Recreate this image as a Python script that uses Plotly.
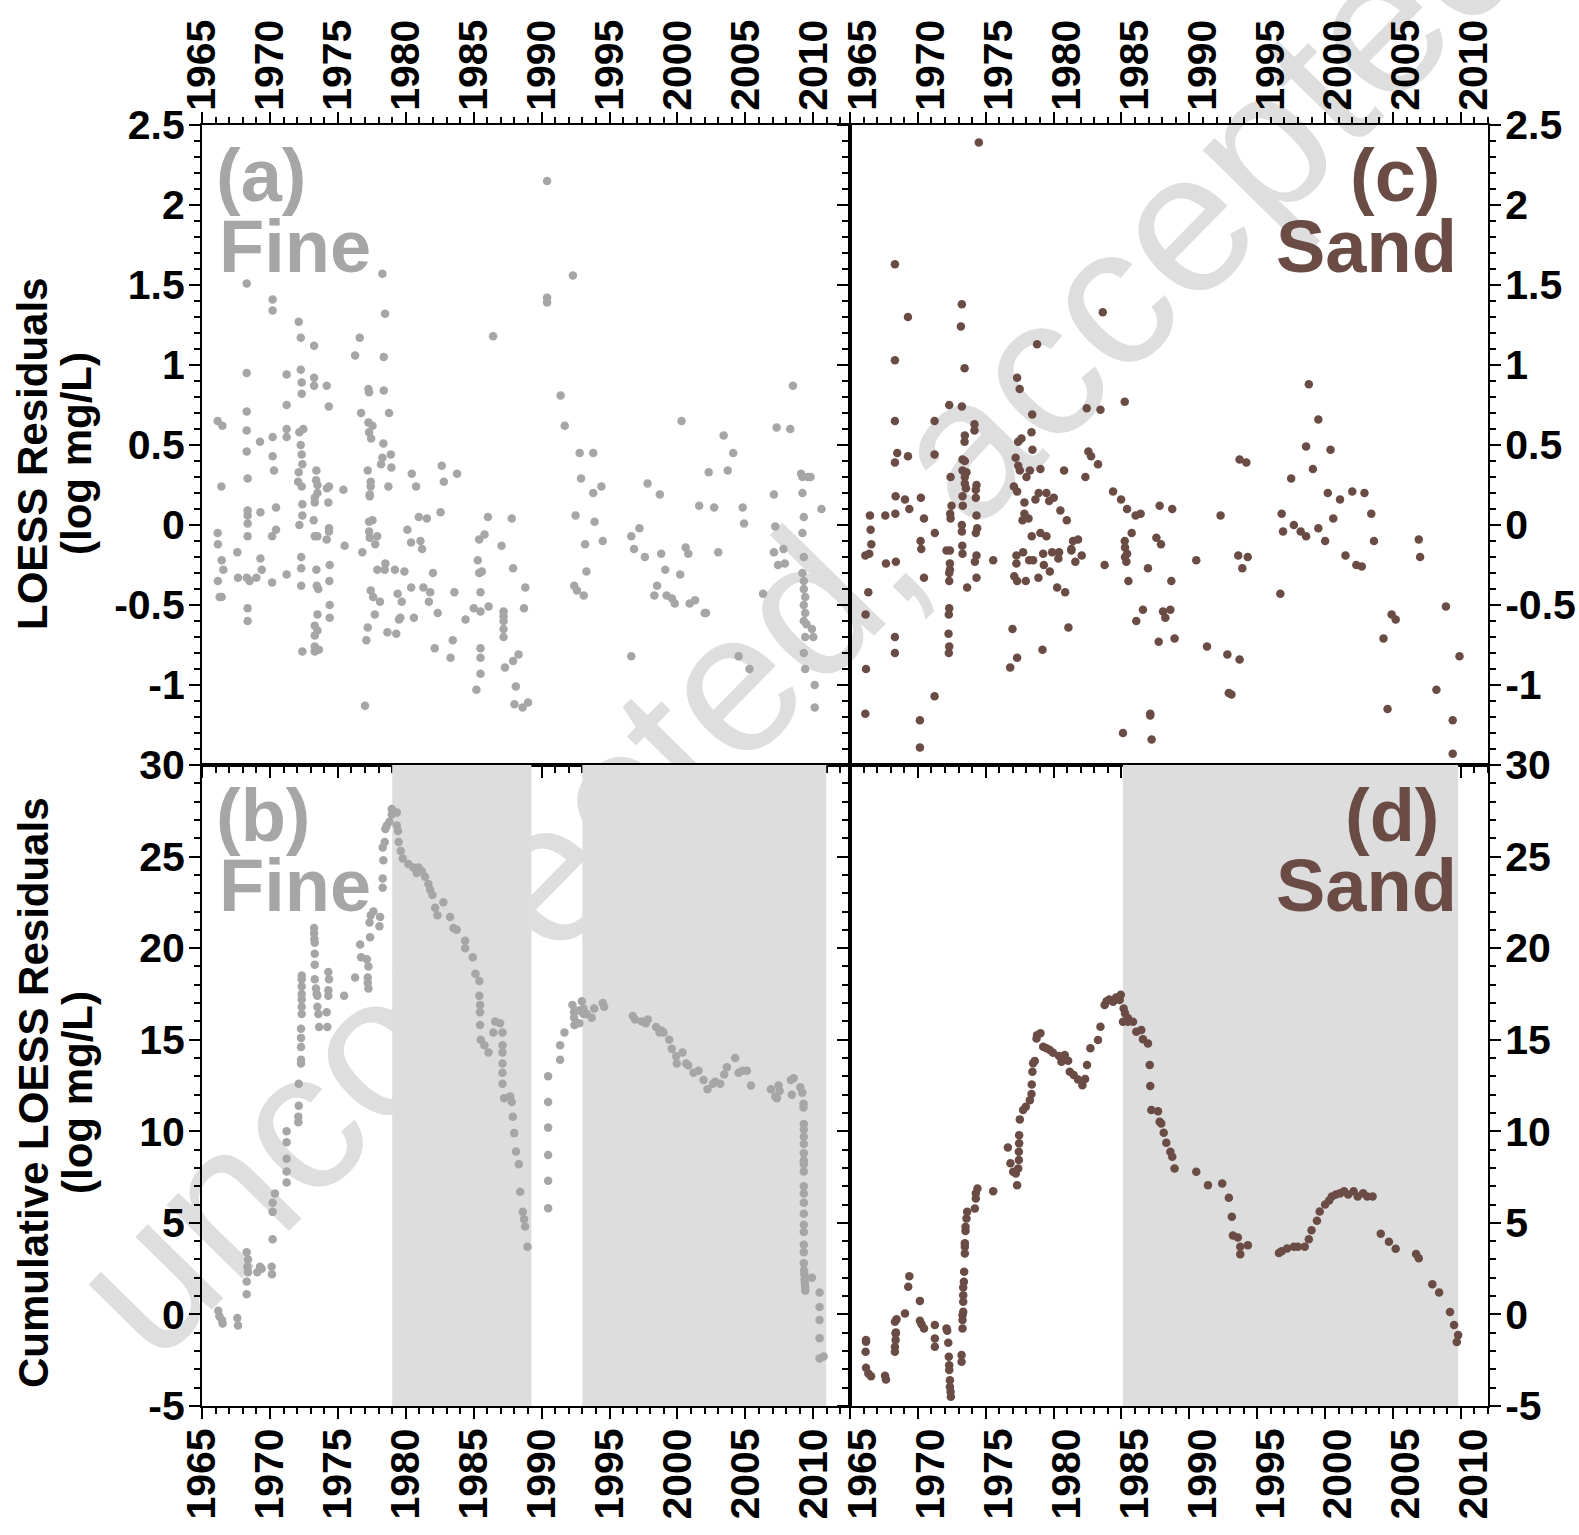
import plotly.graph_objects as go

W, H = 1579, 1535

# ---------------- data ----------------
# (a) Fine-sediment LOESS residuals (log mg/L)
A_YEAR = [1966.15, 1966.5, 1966.15, 1966.17, 1966.45, 1966.57, 1966.17, 1966.3, 1966.45, 1966.43,
          1967.6, 1967.65,
          1968.29, 1968.29, 1968.29, 1968.29, 1968.29, 1968.36, 1968.36, 1968.36, 1968.36, 1968.36, 1968.3, 1968.5, 1968.36, 1968.36,
          1969.0, 1969.27, 1969.3, 1969.3, 1969.4,
          1970.2, 1970.2, 1970.2, 1970.2, 1970.3, 1970.45, 1970.45, 1970.16, 1970.16,
          1971.23, 1971.23, 1971.23, 1971.23, 1971.23,
          1972.12, 1972.27, 1972.27, 1972.34, 1972.34, 1972.17, 1972.46, 1972.27, 1972.34, 1972.39, 1972.12, 1972.07, 1972.34, 1972.39, 1972.39, 1972.17, 1972.3, 1972.3, 1972.3, 1972.39,
          1973.25, 1973.25, 1973.25, 1973.42, 1973.4, 1973.5, 1973.5, 1973.3, 1973.3, 1973.22, 1973.3, 1973.5, 1973.42, 1973.45, 1973.56, 1973.5, 1973.3, 1973.5, 1973.3, 1973.3, 1973.3, 1973.6,
          1974.18, 1974.33, 1974.2, 1974.35, 1974.3, 1974.35, 1974.35, 1974.18, 1974.4, 1974.37, 1974.4, 1974.4,
          1975.41, 1975.5,
          1976.61, 1976.27, 1976.71, 1976.8, 1977.0,
          1977.25, 1977.3, 1977.25, 1977.55, 1977.3, 1977.45, 1977.2, 1977.42, 1977.42, 1977.35, 1977.35, 1977.3, 1977.55, 1977.3, 1977.35, 1977.9, 1977.75, 1977.9, 1977.42, 1977.6, 1978.1, 1977.72, 1977.2, 1977.1,
          1978.28, 1978.48, 1978.38, 1978.38, 1978.77, 1978.35, 1978.28, 1978.9, 1978.18, 1978.94, 1978.72, 1978.45, 1978.5, 1978.65,
          1979.2, 1979.9, 1979.3, 1979.4, 1979.7, 1979.6, 1979.5,
          1980.44, 1980.76, 1980.96, 1980.12, 1980.39, 1980.4, 1980.6,
          1981.08, 1981.2, 1981.55, 1981.3, 1981.8, 1981.7,
          1982.65, 1982.8, 1982.56, 1982.0, 1982.35, 1982.13,
          1983.78, 1983.3, 1983.46, 1983.58, 1984.4,
          1985.3, 1985.4, 1985.8, 1985.4, 1985.6, 1985.0, 1985.5, 1985.5, 1985.5, 1985.5, 1985.5, 1985.2,
          1986.05, 1986.43, 1986.1,
          1987.05, 1987.8, 1987.9, 1987.2, 1987.2, 1987.2, 1987.2, 1987.2, 1987.3, 1987.9,
          1988.3, 1988.1, 1988.8, 1988.7, 1988.0, 1988.6, 1989.0,
          1990.4, 1990.4, 1990.4, 1991.4, 1991.7, 1992.3, 1992.4, 1992.6, 1992.5, 1992.9, 1992.8, 1993.1, 1993.2, 1993.3, 1993.8, 1993.8, 1993.9, 1994.5, 1994.4,
          1996.6, 1996.6, 1996.8, 1997.2, 1997.8, 1997.6, 1998.3, 1998.5, 1998.7, 1998.8, 1999.1, 1999.2, 1999.6, 1999.8,
          2000.2, 2000.3, 2000.6, 2000.8, 2000.9, 2001.3, 2001.6, 2002.0, 2002.1, 2002.3, 2002.7, 2003.0, 2003.4, 2003.7,
          2004.1, 2004.5, 2004.8, 2004.9, 2005.3, 2006.3, 2007.1, 2007.2, 2007.1, 2007.3, 2007.4, 2007.8, 2007.9, 2008.3, 2008.5,
          2009.1, 2009.2, 2009.2, 2009.3, 2009.2, 2009.3, 2009.2, 2009.3, 2009.3, 2009.4, 2009.3, 2009.4, 2009.3, 2009.5, 2009.4, 2009.3, 2009.4,
          2009.6, 2009.8, 2009.9, 2010.0, 2010.1, 2010.1, 2010.6]
A_RES = [0.65, 0.62, -0.05, -0.12, -0.22, -0.28, -0.35, -0.45, -0.45, 0.24,
         -0.17, -0.33,
         1.51, 0.95, 0.71, 0.59, 0.46, 0.29, 0.09, 0.06, 0.01, -0.07, -0.33, -0.35, -0.52, -0.60,
         -0.33, 0.52, 0.08, -0.21, -0.28,
         1.41, 1.34, 0.55, 0.43, 0.34, 0.11, -0.03, -0.07, -0.36,
         0.94, 0.75, 0.60, 0.55, -0.31,
         1.27, 1.17, 0.97, 0.89, 0.82, 0.58, 0.60, 0.50, 0.44, 0.38, 0.33, 0.27, 0.24, 0.13, 0.06, 0.00, -0.20, -0.27, -0.38, -0.79,
         1.12, 0.92, 0.87, 0.34, 0.28, 0.25, 0.20, 0.17, 0.14, 0.03, -0.07, -0.07, -0.28, -0.38, -0.40, -0.56, -0.63, -0.66, -0.69, -0.76, -0.79, -0.78,
         0.87, 0.74, 0.23, 0.24, 0.14, -0.02, -0.04, -0.09, -0.25, -0.35, -0.50, -0.58,
         0.22, -0.13,
         1.17, 1.06, 0.70, -0.17, -1.13,
         0.85, 0.83, 0.64, 0.62, 0.58, 0.54, 0.34, 0.27, 0.24, 0.19, 0.18, 0.02, 0.03, -0.04, -0.08, -0.07, -0.12, -0.28, -0.41, -0.45, -0.48, -0.56, -0.64, -0.72,
         1.57, 1.32, 1.05, 0.84, 0.70, 0.51, 0.42, 0.44, 0.38, 0.36, 0.24, -0.28, -0.24, -0.67,
         -0.28, -0.29, -0.68, -0.43, -0.48, -0.58, -0.59,
         0.32, 0.24, 0.05, -0.03, -0.11, -0.39, -0.58,
         -0.10, -0.15, 0.04, -0.39, -0.42, -0.48,
         0.37, 0.27, 0.08, -0.30, -0.55, -0.77,
         0.32, -0.83, -0.72, -0.42, -0.59,
         -0.22, -0.09, -0.06, -0.30, -0.29, -0.52, -0.54, -0.42, -0.77, -0.83, -0.93, -1.03,
         0.05, 1.18, -0.51,
         -0.13, 0.04, -0.27, -0.54, -0.57, -0.60, -0.65, -0.70, -0.89, -0.85,
         -0.81, -1.01, -0.39, -0.52, -1.12, -1.14, -1.11,
         2.15, 1.42, 1.39, 0.81, 0.62, 1.56, -0.38, -0.41, 0.06, 0.29, 0.45, -0.44, -0.12, -0.29, 0.45, 0.20, 0.02, -0.10, 0.24,
         -0.82, -0.07, -0.15, -0.02, 0.26, -0.20, -0.44, -0.38, 0.19, -0.18, -0.28, -0.44, -0.46, -0.49,
         -0.31, 0.65, -0.14, -0.18, -0.49, -0.47, 0.12, -0.55, -0.55, 0.33, 0.11, -0.17, 0.56, 0.34,
         0.45, -0.82, 0.11, 0.01, -0.90, -0.43, -0.17, -0.01, 0.19, 0.61, -0.25, -0.15, -0.24, 0.60, 0.87,
         0.32, 0.30, 0.20, 0.05, -0.05, -0.20, -0.30, -0.35, -0.40, -0.45, -0.50, -0.55, -0.60, -0.62, -0.70, -0.80, -0.90,
         0.30, 0.30, -0.65, -0.70, -1.00, -1.14, 0.10]

# (b) Fine-sediment cumulative LOESS residuals
B_YEAR = [1966.2, 1966.28, 1966.47, 1966.52, 1967.6, 1967.65,
          1968.29, 1968.39, 1968.34, 1968.39, 1968.29, 1968.29,
          1969.27, 1969.07, 1969.39,
          1970.13, 1970.15, 1970.2, 1970.2, 1970.2, 1970.37,
          1971.23, 1971.23, 1971.23, 1971.23, 1971.23,
          1972.09, 1972.09, 1972.12, 1972.12, 1972.29, 1972.29, 1972.29, 1972.29, 1972.29,
          1972.34, 1972.34, 1972.34, 1972.34, 1972.34, 1972.34, 1972.34,
          1973.25, 1973.25, 1973.27, 1973.3, 1973.3, 1973.3, 1973.3, 1973.39, 1973.44, 1973.49, 1973.49, 1973.57, 1973.62,
          1974.3, 1974.35, 1974.3, 1974.3, 1974.18, 1974.23,
          1975.46, 1976.27,
          1976.64, 1976.71, 1977.13, 1977.25, 1977.2, 1977.2, 1977.25,
          1977.42, 1977.33, 1977.62, 1978.11, 1978.06, 1977.37,
          1978.3, 1978.3, 1978.35, 1978.3, 1978.45, 1978.5, 1978.6, 1978.8,
          1978.97, 1978.97, 1979.34, 1979.34, 1979.43, 1979.48, 1979.63, 1979.78,
          1980.19, 1980.56, 1980.93, 1980.81, 1981.18, 1981.42,
          1981.67, 1981.79, 1981.96, 1982.16, 1982.33, 1982.77,
          1983.26, 1983.51, 1983.75, 1984.37, 1984.37, 1984.93,
          1985.13, 1985.42, 1985.42, 1985.47, 1985.47, 1985.47, 1985.52, 1985.79, 1986.09,
          1986.45, 1986.58, 1986.94,
          1987.12, 1987.12, 1987.12, 1987.12, 1987.12, 1987.12,
          1987.24, 1987.68, 1987.8, 1987.88, 1987.98, 1988.12, 1988.32,
          1988.42, 1988.61, 1988.71, 1988.78, 1988.96,
          1990.48, 1990.48, 1990.48, 1990.48, 1990.48, 1990.48,
          1991.36, 1991.36, 1991.68,
          1992.27, 1992.39, 1992.39, 1992.42, 1992.59, 1992.78,
          1992.96, 1992.71, 1993.08, 1993.08, 1993.33, 1993.69, 1993.87, 1994.5, 1994.6,
          1996.71, 1996.88, 1997.37, 1997.67, 1997.82,
          1998.43, 1998.68, 1998.82, 1998.97, 1999.39,
          1999.58, 1999.9, 2000.37, 1999.95, 2000.64, 2000.79,
          2001.18, 2001.55, 2001.92, 2002.21, 2002.61, 2002.78, 2003.14, 2003.44, 2003.64,
          2004.25, 2004.5, 2004.79, 2005.11, 2005.41,
          2006.88, 2007.2, 2007.32, 2007.44, 2007.52,
          2008.35, 2008.55, 2008.42, 2009.04, 2009.19,
          2009.28, 2009.28, 2009.3, 2009.3, 2009.3, 2009.3, 2009.3, 2009.3, 2009.3, 2009.3,
          2009.3, 2009.3, 2009.3, 2009.3, 2009.3, 2009.3, 2009.3, 2009.3, 2009.3, 2009.32,
          2009.34, 2009.36, 2009.38, 2009.4, 2009.41,
          2009.9,
          2010.46, 2010.46, 2010.46, 2010.46, 2010.46, 2010.76]
B_CUM = [0.2, -0.1, -0.3, -0.5, -0.2, -0.6,
         3.4, 3.0, 2.6, 2.3, 1.8, 1.1,
         2.6, 2.3, 2.5,
         2.6, 2.2, 4.1, 5.6, 6.1, 6.6,
         7.2, 7.8, 8.5, 9.4, 10.0,
         10.5, 10.8, 11.4, 12.6, 13.7, 13.9, 14.6, 15.1, 15.6,
         16.4, 16.8, 17.2, 17.5, 17.9, 18.3, 18.5,
         21.1, 20.8, 20.5, 20.3, 19.7, 19.1, 18.3, 17.8, 17.5, 17.4, 16.8, 16.4, 15.7,
         18.7, 18.3, 17.7, 17.4, 16.5, 15.7,
         17.4, 18.4,
         20.2, 19.5, 19.4, 19.0, 18.4, 18.1, 17.8,
         21.8, 21.4, 22.0, 21.7, 21.2, 20.6,
         23.3, 23.8, 24.8, 25.5, 25.8, 26.5, 26.7, 26.9,
         27.6, 27.3, 27.4, 26.7, 26.4, 25.8, 25.3, 24.9,
         24.6, 24.4, 24.4, 24.1, 24.2, 23.9,
         23.5, 23.2, 22.9, 22.2, 21.8, 22.5,
         21.7, 21.1, 21.0, 20.4, 20.0, 19.5,
         18.6, 18.2, 17.4, 16.9, 16.5, 15.8, 15.0, 14.7, 14.3,
         15.4, 16.0, 15.9,
         15.4, 14.7, 14.3, 13.7, 13.2, 12.6,
         11.8, 11.9, 11.6, 10.8, 9.9, 8.9, 8.2,
         6.7, 5.6, 5.2, 4.8, 3.7,
         13.0, 11.6, 10.2, 8.7, 7.3, 5.8,
         13.9, 14.7, 15.4,
         16.9, 16.5, 16.2, 15.8, 15.9, 15.9,
         17.1, 16.6, 16.7, 16.4, 16.4, 16.2, 16.7, 17.0, 16.8,
         16.3, 16.1, 16.0, 15.9, 16.1,
         15.7, 15.4, 15.5, 15.4, 15.0,
         14.5, 14.1, 14.3, 13.7, 13.7, 13.6,
         13.2, 13.3, 12.8, 12.3, 12.6, 12.7, 12.6, 13.1, 13.5,
         14.0, 13.2, 13.3, 13.3, 12.5,
         12.3, 11.9, 11.8, 12.5, 12.2,
         12.8, 12.9, 12.0, 12.4, 12.1,
         11.5, 11.3, 10.4, 10.1, 9.7, 9.3, 8.8, 8.4, 8.2, 7.8,
         7.0, 6.6, 6.1, 5.5, 4.9, 4.5, 3.8, 3.4, 2.8, 2.4,
         2.2, 1.9, 1.7, 1.5, 1.3,
         2.0,
         1.2, 0.4, -0.3, -1.3, -2.4, -2.3]

# (c) Sand LOESS residuals
C_YEAR = [1968.31, 1973.24, 1973.17, 1969.27, 1968.31, 1973.44, 1983.62, 1978.78, 1977.31, 1977.50,
          1972.31, 1973.24, 1978.42, 1982.44, 1983.45, 1985.24, 1968.31, 1971.23, 1974.17, 1974.17,
          1973.46, 1973.44, 1978.37, 1977.39, 1977.63, 1978.44, 1968.48, 1968.31, 1969.27, 1971.23,
          1973.29, 1973.46, 1973.29, 1973.58, 1973.46, 1972.41, 1977.20, 1977.39, 1977.51, 1978.00,
          1978.25, 1979.03, 1980.77, 1982.56, 1982.76, 1983.27, 1982.34, 1973.46, 1973.54, 1974.32,
          1974.27, 1974.27, 1973.29, 1977.07, 1977.31, 1977.85, 1978.66, 1978.90, 1979.47, 1979.67,
          1980.01, 1980.50, 1980.97, 1984.38, 1984.97, 1985.41, 1986.04, 1986.41, 1987.81, 1988.74,
          1968.36, 1969.05, 1969.37, 1970.22, 1972.48, 1972.38, 1972.41, 1973.31, 1974.32, 1966.47,
          1966.52, 1966.57, 1967.60, 1968.34, 1970.45, 1971.25, 1973.24, 1973.24, 1974.37, 1974.27,
          1977.85, 1978.15, 1977.71, 1978.39, 1979.03, 1979.47, 1981.80, 1981.43, 1981.31, 1985.75,
          1985.24, 1985.26, 1985.41, 1985.26, 1985.36, 1987.57, 1987.91, 1970.20, 1970.25, 1972.11,
          1972.36, 1973.27, 1973.29, 1974.32, 1966.13, 1966.42, 1967.65, 1968.38, 1972.36, 1972.36,
          1974.20, 1975.55, 1977.26, 1977.75, 1977.26, 1978.20, 1978.49, 1979.23, 1979.89, 1980.40,
          1980.35, 1981.31, 1982.07, 1981.60, 1983.76, 1986.95, 1990.51, 1979.28, 1979.72, 1970.45,
          1972.31, 1972.31, 1974.32, 1973.63, 1977.10, 1977.31, 1977.95, 1978.88, 1980.26, 1980.85,
          1985.51, 1988.67, 1966.35, 1966.15, 1968.31, 1968.31, 1972.31, 1972.28, 1972.26, 1972.31,
          1972.28, 1976.97, 1981.09, 1979.18, 1977.31, 1976.80, 1986.58, 1986.09, 1988.06, 1988.60,
          1988.23, 1987.74, 1988.91, 1966.18, 1971.23, 1966.13, 1970.15, 1970.15, 1985.11, 1987.12,
          1987.12, 1987.22, 1974.49,
          1991.3, 1992.3, 1992.8, 1992.9, 1993.1, 1993.7, 1993.6, 1993.7, 1994.2, 1993.9, 1994.3,
          1996.7, 1996.8, 1996.9, 1997.5, 1997.7, 1998.2, 1998.6, 1998.6, 1998.8, 1999.1, 1999.5, 1999.5,
          2000.0, 2000.2, 2000.4, 2000.6, 2001.1, 2001.5, 2002.0, 2002.3, 2002.7, 2002.9, 2003.4, 2003.6,
          2004.3, 2004.6, 2004.9, 2005.2, 2006.9, 2007.0, 2008.2, 2008.9, 2009.4, 2009.4, 2009.9]
C_RES = [1.63, 1.38, 1.24, 1.30, 1.03, 0.98, 1.33, 1.13, 0.92, 0.85,
         0.75, 0.74, 0.69, 0.73, 0.72, 0.77, 0.65, 0.65, 0.63, 0.59,
         0.56, 0.52, 0.58, 0.52, 0.54, 0.47, 0.45, 0.39, 0.43, 0.44,
         0.41, 0.40, 0.34, 0.33, 0.30, 0.30, 0.42, 0.37, 0.34, 0.30,
         0.34, 0.35, 0.34, 0.46, 0.43, 0.38, 0.30, 0.26, 0.23, 0.25,
         0.22, 0.17, 0.18, 0.24, 0.21, 0.14, 0.16, 0.20, 0.20, 0.15,
         0.17, 0.09, 0.03, 0.21, 0.16, 0.10, 0.06, 0.07, 0.12, 0.10,
         0.18, 0.16, 0.10, 0.17, 0.12, 0.07, 0.04, 0.12, 0.06, 0.06,
         -0.03, -0.12, 0.06, 0.07, 0.04, -0.05, 0.00, -0.04, -0.02, -0.05,
         0.07, 0.04, 0.03, -0.07, -0.05, -0.07, -0.09, -0.10, -0.15, -0.05,
         -0.10, -0.14, -0.18, -0.20, -0.23, -0.08, -0.12, -0.10, -0.15, -0.16,
         -0.16, -0.13, -0.18, -0.19, -0.19, -0.18, -0.24, -0.23, -0.24, -0.28,
         -0.23, -0.22, -0.19, -0.17, -0.24, -0.22, -0.22, -0.18, -0.17, -0.17,
         -0.21, -0.16, -0.19, -0.23, -0.25, -0.27, -0.22, -0.25, -0.29, -0.33,
         -0.30, -0.35, -0.33, -0.39, -0.32, -0.35, -0.35, -0.33, -0.39, -0.42,
         -0.35, -0.35, -0.42, -0.56, -0.70, -0.80, -0.52, -0.56, -0.68, -0.76,
         -0.80, -0.65, -0.64, -0.78, -0.83, -0.89, -0.53, -0.60, -0.54, -0.53,
         -0.58, -0.73, -0.71, -0.90, -1.07, -1.18, -1.22, -1.39, -1.30, -1.18,
         -1.19, -1.34, 2.39,
         -0.76, 0.06, -0.81, -1.05, -1.06, -0.84, -0.19, 0.41, 0.39, -0.27, -0.20,
         -0.43, 0.07, -0.04, 0.29, 0.00, -0.04, -0.07, 0.49, 0.88, 0.35, 0.66, -0.02,
         -0.10, 0.20, 0.47, 0.04, 0.16, -0.19, 0.21, -0.25, -0.26, 0.20, 0.07, -0.10,
         -0.71, -1.15, -0.56, -0.59, -0.09, -0.20, -1.03, -0.51, -1.22, -1.43, -0.82]

# (d) Sand cumulative LOESS residuals
D_YEAR = [1966.18, 1966.18, 1966.15, 1966.18, 1966.35, 1966.55, 1967.58, 1967.65,
          1968.31, 1968.31, 1968.36, 1968.36, 1968.38, 1968.31, 1968.43, 1969.05, 1969.37, 1969.29,
          1970.15, 1970.15, 1970.27, 1970.45, 1971.25, 1971.25, 1971.25,
          1972.11, 1972.16, 1972.24, 1972.28, 1972.31, 1972.31, 1972.36, 1972.36, 1972.41, 1972.43,
          1973.22, 1973.22, 1973.29, 1973.29, 1973.29, 1973.34, 1973.34, 1973.34, 1973.34, 1973.39,
          1973.41, 1973.46, 1973.46, 1973.46, 1973.51, 1973.51, 1973.58, 1973.63,
          1974.20, 1974.27, 1974.27, 1974.39, 1975.55,
          1977.31, 1977.21, 1977.02, 1976.82, 1976.63, 1977.39, 1977.44, 1977.44, 1977.46, 1977.46,
          1977.51, 1977.75, 1977.95, 1978.25, 1978.37, 1978.39, 1978.44, 1978.49, 1978.61, 1978.74,
          1979.03, 1978.78,
          1979.23, 1979.47, 1979.72, 1979.96, 1980.40, 1980.58, 1980.82, 1981.07,
          1981.19, 1981.48, 1981.80, 1982.12, 1982.32,
          1982.46, 1982.71, 1983.27, 1983.45,
          1983.76, 1983.9, 1984.1, 1984.38, 1984.6, 1984.87, 1984.95,
          1985.16, 1985.26, 1985.48, 1985.11, 1985.48, 1985.85,
          1986.09, 1986.46, 1986.58, 1986.95, 1987.08, 1987.12,
          1987.20, 1987.69, 1987.81, 1987.93, 1988.11, 1988.30, 1988.60, 1988.74, 1988.91,
          1990.51, 1991.37, 1992.42, 1992.91, 1993.13, 1993.21, 1993.57, 1993.75, 1993.75, 1994.31,
          1996.6, 1996.8, 1997.2, 1997.7, 1998.0, 1998.5, 1998.8, 1999.0, 1999.4, 1999.6,
          2000.0, 2000.3, 2000.5, 2000.8, 2001.1, 2001.4, 2001.7, 2002.1, 2002.4, 2002.8,
          2003.1, 2003.5, 2004.1, 2004.7, 2005.2, 2006.7, 2006.9, 2007.9, 2008.4,
          2009.2, 2009.5, 2009.8, 2009.7]
D_CUM = [-1.40, -1.49, -2.04, -2.91, -3.22, -3.37, -3.35, -3.55,
         -2.04, -1.77, -1.40, -1.04, -0.98, -0.40, -0.27, 0.05, 2.09, 1.51,
         0.74, -0.35, -0.53, -0.77, -0.58, -1.31, -1.77,
         -0.77, -0.89, -1.55, -2.31, -2.77, -3.04, -3.59, -3.95, -4.22, -4.50,
         -2.22, -2.59, -0.77, -0.31, -0.04, 0.14, 0.69, 1.05, 1.47, 1.78,
         2.33, 3.33, 3.69, 3.88, 4.55, 4.79, 5.24, 5.61,
         5.79, 6.33, 6.61, 6.88, 6.73,
         7.06, 7.70, 7.79, 8.25, 9.12, 7.97, 8.43, 8.88, 9.34, 9.79,
         10.65, 11.16, 11.34, 11.70, 12.03, 12.56, 13.25, 13.71, 13.84, 15.07,
         15.35, 15.25,
         14.62, 14.53, 14.44, 14.29, 14.11, 13.80, 14.16, 13.85,
         13.25, 13.07, 12.83, 12.52, 12.85,
         13.62, 14.53, 14.98, 15.71,
         16.89, 17.10, 17.20, 17.07, 17.30, 17.17, 17.45,
         16.71, 16.44, 16.17, 15.98, 15.98, 15.98,
         15.44, 15.53, 15.02, 14.80, 13.62, 12.47,
         11.16, 11.10, 10.52, 10.43, 9.92, 9.37, 8.88, 8.61, 7.97,
         7.79, 7.06, 7.15, 6.37, 5.33, 4.31, 4.20, 3.69, 3.29, 3.78,
         3.35, 3.45, 3.60, 3.70, 3.70, 3.70, 4.10, 4.60, 5.12, 5.62,
         6.00, 6.22, 6.44, 6.55, 6.61, 6.72, 6.55, 6.72, 6.44, 6.61,
         6.44, 6.44, 4.41, 3.97, 3.58, 3.30, 3.07, 1.65, 1.20,
         0.13, -0.58, -1.13, -1.50]

# Shaded periods (years)
SHADE_B = [(1979.0, 1989.25), (1993.0, 2010.95)]
SHADE_D = [(1985.1, 2009.8)]

YEAR_TICKS = [1965, 1970, 1975, 1980, 1985, 1990, 1995, 2000, 2005, 2010]
RES_TICKS = [-1, -0.5, 0, 0.5, 1, 1.5, 2, 2.5]
RES_TEXT = ['-1', '-0.5', '0', '0.5', '1', '1.5', '2', '2.5']
CUM_TICKS = [-5, 0, 5, 10, 15, 20, 25, 30]
CUM_TEXT = ['-5', '0', '5', '10', '15', '20', '25', '30']

FINE_COLOR = '#a6a6a6'
SAND_COLOR = '#6b4c45'
SHADE_COLOR = '#dcdddc'
WATERMARK_COLOR = '#dedede'
FONT = 'Liberation Sans, Arial, Helvetica, sans-serif'

# ---------------- layout geometry (pixels) ----------------
def fx(p):
    return p / W


def fy(p):
    return 1 - p / H


X_LEFT = [fx(202), fx(850)]
X_RIGHT = [fx(850), fx(1488)]
Y_TOP = [fy(765), fy(125)]
Y_BOT = [fy(1406), fy(765)]

fig = go.Figure()

marker_fine = dict(size=8.5, color=FINE_COLOR)
marker_sand = dict(size=8.5, color=SAND_COLOR)
fig.add_trace(go.Scatter(x=A_YEAR, y=A_RES, mode='markers', marker=marker_fine, xaxis='x', yaxis='y', hoverinfo='skip'))
fig.add_trace(go.Scatter(x=C_YEAR, y=C_RES, mode='markers', marker=marker_sand, xaxis='x2', yaxis='y2', hoverinfo='skip'))
fig.add_trace(go.Scatter(x=B_YEAR, y=B_CUM, mode='markers', marker=marker_fine, xaxis='x3', yaxis='y3', hoverinfo='skip'))
fig.add_trace(go.Scatter(x=D_YEAR, y=D_CUM, mode='markers', marker=marker_sand, xaxis='x4', yaxis='y4', hoverinfo='skip'))

tickfont = dict(family=FONT, size=41, color='black', weight='bold')


def xaxis(domain, anchor, side, rng, mirror, shift=0):
    return dict(domain=domain, anchor=anchor, side=side, range=rng, automargin=False,
                showline=True, linecolor='black', linewidth=2, mirror=mirror,
                ticks='outside', ticklen=11, tickwidth=2, tickcolor='black',
                tickmode='array', tickvals=YEAR_TICKS, ticktext=[str(v) for v in YEAR_TICKS],
                tickangle=-90, tickfont=tickfont, ticklabelshift=shift, ticklabelstandoff=-7,
                minor=dict(ticks='outside', ticklen=6, tickwidth=1.5, tickcolor='black',
                           tickmode='linear', tick0=1965, dtick=1, showgrid=False),
                showgrid=False, zeroline=False, fixedrange=True)


def yaxis(domain, anchor, side, rng, vals, text, minor_dtick, mirror):
    return dict(domain=domain, anchor=anchor, side=side, range=rng, automargin=False,
                showline=True, linecolor='black', linewidth=2, mirror=mirror,
                ticks='outside', ticklen=11, tickwidth=2, tickcolor='black',
                tickmode='array', tickvals=vals, ticktext=text, tickfont=tickfont,
                ticklabelstandoff=-4,
                minor=dict(ticks='outside', ticklen=6, tickwidth=1.5, tickcolor='black',
                           tickmode='linear', tick0=0, dtick=minor_dtick, showgrid=False),
                showgrid=False, zeroline=False, fixedrange=True)


fig.update_layout(
    xaxis=xaxis(X_LEFT, 'y', 'top', [1965, 2012.7], 'allticks'),
    yaxis=yaxis(Y_TOP, 'x', 'left', [-1.5, 2.5], RES_TICKS, RES_TEXT, 0.1, True),
    xaxis2=xaxis(X_RIGHT, 'y2', 'top', [1965, 2012], 'allticks', shift=13),
    yaxis2=yaxis(Y_TOP, 'x2', 'right', [-1.5, 2.5], RES_TICKS, RES_TEXT, 0.1, 'allticks'),
    xaxis3=xaxis(X_LEFT, 'y3', 'bottom', [1965, 2012.7], True),
    yaxis3=yaxis(Y_BOT, 'x3', 'left', [-5, 30], CUM_TICKS, CUM_TEXT, 1, True),
    xaxis4=xaxis(X_RIGHT, 'y4', 'bottom', [1965, 2012], True, shift=13),
    yaxis4=yaxis(Y_BOT, 'x4', 'right', [-5, 30], CUM_TICKS, CUM_TEXT, 1, 'allticks'),
)

shapes = []
# watermark (drawn beneath the panels' shading and points)
wm_cx, wm_cy = 785, 600
wm_dx, wm_dy = 280, -285
shapes.append(dict(type='line', xref='paper', yref='paper', layer='below',
                   x0=fx(wm_cx - wm_dx), y0=fy(wm_cy - wm_dy),
                   x1=fx(wm_cx + wm_dx), y1=fy(wm_cy + wm_dy),
                   line=dict(color='rgba(0,0,0,0)', width=0),
                   label=dict(text='uncorrected, accepted', textposition='middle',
                              xanchor='center', yanchor='middle',
                              font=dict(family=FONT, size=200, color=WATERMARK_COLOR))))
for x0, x1 in SHADE_B:
    shapes.append(dict(type='rect', xref='x3', yref='y3', x0=x0, x1=x1, y0=-5, y1=30,
                       fillcolor=SHADE_COLOR, line=dict(width=0), layer='below'))
for x0, x1 in SHADE_D:
    shapes.append(dict(type='rect', xref='x4', yref='y4', x0=x0, x1=x1, y0=-5, y1=30,
                       fillcolor=SHADE_COLOR, line=dict(width=0), layer='below'))

label_font_fine = dict(family=FONT, size=74, color=FINE_COLOR, weight='bold')
label_font_sand = dict(family=FONT, size=74, color=SAND_COLOR, weight='bold')
title_font = dict(family=FONT, size=42, color='black', weight='bold')

annotations = [
    dict(text='(a)', x=fx(214), y=fy(175), xanchor='left', yanchor='middle', font=label_font_fine),
    dict(text='Fine', x=fx(217), y=fy(246), xanchor='left', yanchor='middle', font=label_font_fine),
    dict(text='(b)', x=fx(214), y=fy(816), xanchor='left', yanchor='middle', font=label_font_fine),
    dict(text='Fine', x=fx(217), y=fy(885), xanchor='left', yanchor='middle', font=label_font_fine),
    dict(text='(c)', x=fx(1442), y=fy(175), xanchor='right', yanchor='middle', font=label_font_sand),
    dict(text='Sand', x=fx(1459), y=fy(246), xanchor='right', yanchor='middle', font=label_font_sand),
    dict(text='(d)', x=fx(1442), y=fy(816), xanchor='right', yanchor='middle', font=label_font_sand),
    dict(text='Sand', x=fx(1459), y=fy(885), xanchor='right', yanchor='middle', font=label_font_sand),
    dict(text='LOESS Residuals', x=fx(33), y=fy(454), textangle=-90, font=title_font),
    dict(text='(log mg/L)', x=fx(77), y=fy(454), textangle=-90, font=title_font),
    dict(text='Cumulative LOESS Residuals', x=fx(33), y=fy(1093), textangle=-90, font=title_font),
    dict(text='(log mg/L)', x=fx(77), y=fy(1093), textangle=-90, font=title_font),
]
for a in annotations:
    a.update(xref='paper', yref='paper', showarrow=False, xanchor=a.get('xanchor', 'center'),
             yanchor=a.get('yanchor', 'middle'))

fig.update_layout(
    width=W, height=H,
    margin=dict(l=0, r=0, t=0, b=0, autoexpand=False),
    paper_bgcolor='white', plot_bgcolor='rgba(0,0,0,0)',
    showlegend=False,
    shapes=shapes,
    annotations=annotations,
)

fig.write_html('out.html')
